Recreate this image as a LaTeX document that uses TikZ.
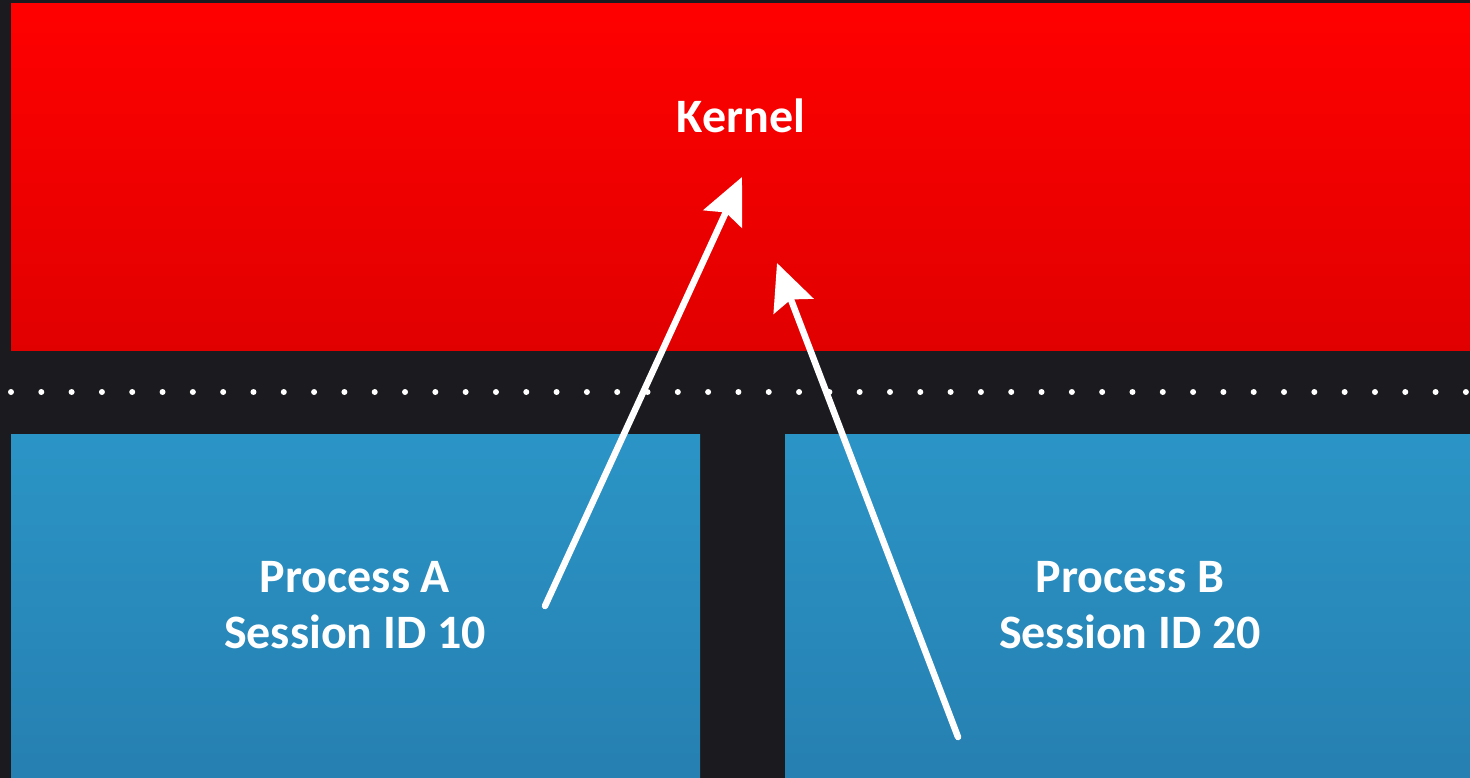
\documentclass[tikz,border=0pt]{standalone}
\usepackage{fontspec}
\setmainfont{Carlito}
\usetikzlibrary{arrows.meta}
\definecolor{bgdark}{HTML}{1B1B1F}
\definecolor{redtop}{HTML}{FF0000}
\definecolor{redbot}{HTML}{E10000}
\definecolor{bluetop}{HTML}{2B94C6}
\definecolor{bluebot}{HTML}{2680B1}
\tikzset{
  kernelbox/.style={rectangle, inner sep=0pt, draw=none, top color=redtop, bottom color=redbot},
  procbox/.style={rectangle, inner sep=0pt, draw=none, top color=bluetop, bottom color=bluebot},
  label/.style={text=white, font=\fontsize{48}{56}\selectfont\bfseries, align=center, anchor=base, inner sep=0pt},
  callarrow/.style={draw=white, line width=6.5pt, line cap=round, -{Stealth[length=46pt,width=42pt,inset=7pt]}},
}
\begin{document}
\begin{tikzpicture}[x=1pt,y=-1pt]
  \useasboundingbox (0,0) rectangle (1470,778);
  \fill[bgdark] (0,0) rectangle (1470,778);
  % boxes
  \node[kernelbox, minimum width=1459pt, minimum height=346pt] (kernel) at (740.5,177) {};
  \node[procbox, minimum width=689pt, minimum height=344pt] (procA) at (355.5,606) {};
  \node[procbox, minimum width=685pt, minimum height=344pt] (procB) at (1127.5,606) {};
  % dotted boundary
  \foreach \i in {0,...,48} {
    \fill[white] (11+\i*30.31,392) circle (3pt);
  }
  % labels (base anchor = baseline of last line)
  \node[label] (kernelText) at (741,133) {Kernel};
  \node[label] (procAText) at (355,648) {Process A\\Session ID 10};
  \node[label] (procBText) at (1130,648) {Process B\\Session ID 20};
  % arrows
  \coordinate (aStart) at (545,606);
  \coordinate (aEnd) at (742,177);
  \coordinate (bStart) at (958,737);
  \coordinate (bEnd) at (777,263);
  \draw[callarrow] (aStart) -- (aEnd);
  \draw[callarrow] (bStart) -- (bEnd);
\end{tikzpicture}
\end{document}
